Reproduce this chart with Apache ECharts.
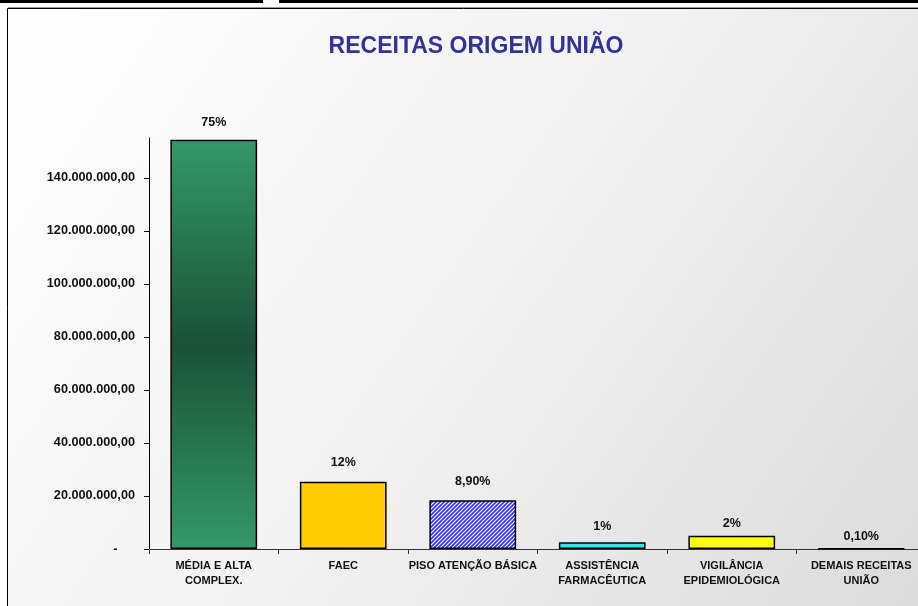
<!DOCTYPE html>
<html><head><meta charset="utf-8">
<script src="https://cdn.jsdelivr.net/npm/echarts@6/dist/echarts.min.js"></script>
<style>html,body{margin:0;padding:0;background:#fff}#c{width:918px;height:606px}</style>
</head><body><div id="c"></div>
<script>
const categories = ['MÉDIA E ALTA\nCOMPLEX.', 'FAEC', 'PISO ATENÇÃO BÁSICA', 'ASSISTÊNCIA\nFARMACÊUTICA', 'VIGILÂNCIA\nEPIDEMIOLÓGICA', 'DEMAIS RECEITAS\nUNIÃO'];
const values = [154300000, 25350000, 18340000, 2500000, 5000000, 200000];
const pctLabels = ['75%', '12%', '8,90%', '1%', '2%', '0,10%'];
const yTicks = [0, 20000000, 40000000, 60000000, 80000000, 100000000, 120000000, 140000000];

function fmt(v){
  if (v === 0) return '-     ';
  const s = Math.round(v).toString().replace(/\B(?=(\d{3})+(?!\d))/g, '.');
  return s + ',00';
}

// hatch pattern for PISO bar
const pc = document.createElement('canvas');
pc.width = 4; pc.height = 4;
const pctx = pc.getContext('2d');
pctx.fillStyle = '#3333ff'; pctx.fillRect(0,0,4,4);
pctx.strokeStyle = '#ffffff'; pctx.lineWidth = 1.2;
pctx.beginPath();
pctx.moveTo(0,4); pctx.lineTo(4,0);
pctx.moveTo(-1,1); pctx.lineTo(1,-1);
pctx.moveTo(3,5); pctx.lineTo(5,3);
pctx.stroke();

const greenGrad = new echarts.graphic.LinearGradient(0,0,0,1,[
  {offset:0,color:'#33996a'},{offset:0.5,color:'#1a5137'},{offset:1,color:'#33996a'}]);
const fills = [greenGrad, '#ffcc00', {image: pc, repeat: 'repeat'}, '#33e6e6', '#ffff00', '#000000'];
const labelDist = [11, 12.5, 12, 9.5, 5.5, 4.5];
const FONT = 'Liberation Sans, Arial, sans-serif';

const chart = echarts.init(document.getElementById('c'));
chart.setOption({
  animation: false,
  graphic: [
    {type:'rect', shape:{x:0,y:0,width:263,height:3}, style:{fill:'#000'}, z:-10},
    {type:'rect', shape:{x:279,y:0,width:639,height:3}, style:{fill:'#000'}, z:-10},
    {type:'rect', shape:{x:7.5,y:8.5,width:1000,height:700},
     style:{fill:new echarts.graphic.LinearGradient(0,0,1,1,[{offset:0,color:'#ffffff'},{offset:0.45,color:'#f2f2f2'},{offset:1,color:'#d6d6d6'}]), stroke:'#000', lineWidth:1}, z:-10},
    {type:'line', shape:{x1:8,y1:7.5,x2:918,y2:7.5}, style:{stroke:'#9a9a9a',lineWidth:1}, z:-10}
  ],
  title: {
    text: 'RECEITAS ORIGEM UNIÃO', left: 476, top: 35, textAlign: 'center', padding: 0,
    textStyle: {fontFamily: FONT, fontSize: 23, fontWeight:'bold', color:'#333399'}
  },
  grid: {left: 149, top: 138, width: 777, height: 411, containLabel: false, outerBoundsMode: 'none'},
  xAxis: {
    type:'category', data: categories,
    axisLine:{lineStyle:{color:'#333',width:1}},
    axisTick:{show:true, length:5, lineStyle:{color:'#333'}},
    axisLabel:{interval:0, margin:9, fontFamily: FONT, fontSize:11, fontWeight:'bold', color:'#111', lineHeight:15}
  },
  yAxis: {
    type:'value', min:0, max:155000000,
    axisLine:{show:true, lineStyle:{color:'#000',width:1}},
    axisTick:{show:true, length:5, customValues: yTicks, lineStyle:{color:'#000'}},
    splitLine:{show:false},
    axisLabel:{customValues: yTicks, margin:14, formatter: fmt, fontFamily: FONT, fontSize:12.7, fontWeight:'bold', color:'#111'}
  },
  series: [{
    type:'bar', barWidth:'67%',
    data: values.map((v,i)=>({value:v, itemStyle:{color:fills[i]}, label:{distance:labelDist[i]}})),
    itemStyle:{borderColor:'#000', borderWidth:1.5},
    label:{show:true, position:'top', formatter:(p)=>pctLabels[p.dataIndex],
      fontFamily: FONT, fontSize:12.5, fontWeight:'bold', color:'#111'}
  }]
});
</script></body></html>
